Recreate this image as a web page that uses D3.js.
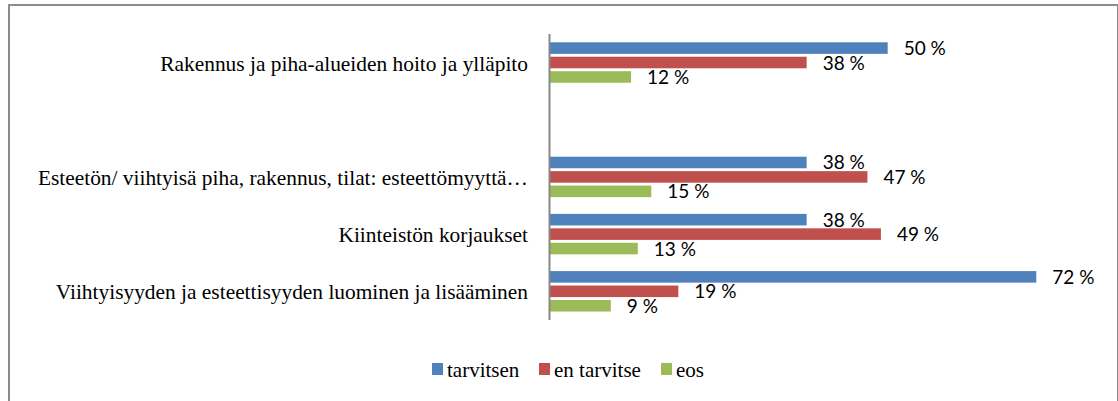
<!DOCTYPE html>
<html>
<head>
<meta charset="utf-8">
<script src="https://cdn.jsdelivr.net/npm/d3@7"></script>
<style>
  html, body { margin: 0; padding: 0; background: #fff; }
  svg { display: block; }
  .serif { font-family: "Liberation Serif", "Times New Roman", Times, "DejaVu Serif", serif; }
  .sans { font-family: Lato, "Open Sans", sans-serif; }
</style>
</head>
<body>
<svg id="chart" width="1118" height="401"></svg>
<script>
const categories = [
  "Rakennus ja piha-alueiden hoito ja ylläpito",
  "",
  "Esteetön/ viihtyisä piha, rakennus, tilat: esteettömyyttä…",
  "Kiinteistön korjaukset",
  "Viihtyisyyden ja esteettisyyden luominen ja lisääminen"
];
const seriesNames = ["tarvitsen", "en tarvitse", "eos"];
const tarvitsen = [50, null, 38, 38, 72];
const enTarvitse = [38, null, 47, 49, 19];
const eos = [12, null, 15, 13, 9];
const seriesValues = [tarvitsen, enTarvitse, eos];
const colors = ["#4F81BD", "#C0504D", "#9BBB59"];

const svg = d3.select("#chart");

// outer border
svg.append("rect")
  .attr("x", 9).attr("y", 5)
  .attr("width", 1109).attr("height", 430)
  .attr("fill", "none")
  .attr("stroke", "#8c8c8c")
  .attr("stroke-width", 2);

const x = d3.scaleLinear().domain([0, 80]).range([550, 1090.3]);
const y = d3.scaleBand().domain(d3.range(categories.length)).range([34, 320]).padding(0);
const bw = y.bandwidth();
const ySub = d3.scaleBand().domain(d3.range(seriesNames.length))
  .range([bw * 0.145, bw * 0.852]).paddingInner(0.2).paddingOuter(0);

const rows = [];
categories.forEach((c, i) => {
  seriesValues.forEach((arr, s) => {
    if (arr[i] != null) rows.push({ i, s, v: arr[i] });
  });
});

const g = svg.append("g");
g.selectAll("rect.bar").data(rows).join("rect")
  .attr("class", "bar")
  .attr("x", x(0))
  .attr("y", d => y(d.i) + ySub(d.s))
  .attr("width", d => x(d.v) - x(0))
  .attr("height", ySub.bandwidth())
  .attr("fill", d => colors[d.s]);

g.selectAll("text.val").data(rows).join("text")
  .attr("class", "val sans")
  .attr("x", d => x(d.v) + 16)
  .attr("y", d => y(d.i) + ySub(d.s) + ySub.bandwidth() / 2 + 7)
  .attr("font-size", 19)
  .attr("fill", "#000")
  .text(d => d.v + " %");

// category axis line
svg.append("line")
  .attr("x1", 549.5).attr("x2", 549.5)
  .attr("y1", y.range()[0]).attr("y2", y.range()[1])
  .attr("stroke", "#888")
  .attr("stroke-width", 2);

// category labels
svg.selectAll("text.cat").data(categories.map((c, i) => ({ c, i })).filter(d => d.c !== ""))
  .join("text")
  .attr("class", "cat serif")
  .attr("x", 528)
  .attr("y", d => y(d.i) + bw / 2 + 8)
  .attr("text-anchor", "end")
  .attr("font-size", 21.4)
  .attr("fill", "#000")
  .text(d => d.c);

// legend
const legendX = [432, 539, 661];
const lg = svg.append("g");
seriesNames.forEach((n, s) => {
  lg.append("rect")
    .attr("x", legendX[s]).attr("y", 363)
    .attr("width", 11).attr("height", 12)
    .attr("fill", colors[s]);
  lg.append("text")
    .attr("class", "serif")
    .attr("x", legendX[s] + 15)
    .attr("y", 376.5)
    .attr("font-size", 21)
    .attr("fill", "#000")
    .text(n);
});
</script>
</body>
</html>
